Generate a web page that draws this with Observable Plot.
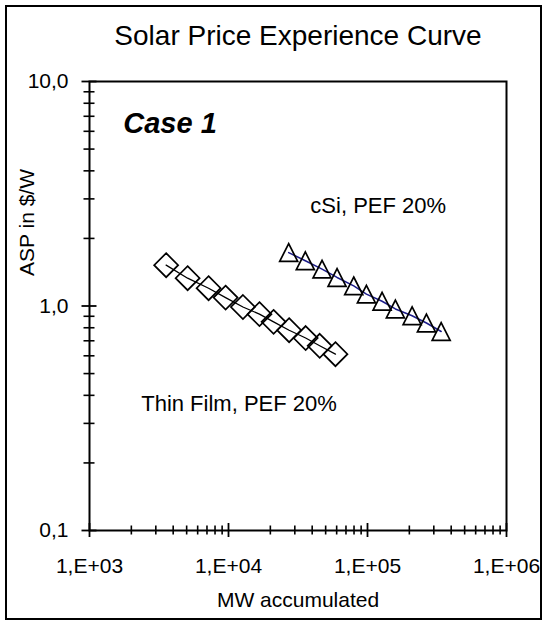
<!DOCTYPE html>
<html>
<head>
<meta charset="utf-8">
<script src="https://cdn.jsdelivr.net/npm/d3@7"></script>
<script src="https://cdn.jsdelivr.net/npm/@observablehq/plot@0.6"></script>
<style>
  html, body { margin: 0; padding: 0; background: #fff; }
  #wrap { position: relative; width: 542px; height: 621px; overflow: hidden; }
  #wrap svg { position: absolute; left: 0; top: 0; }
  #border { position: absolute; left: 5px; top: 5px; width: 533px; height: 611px; border: 2px solid #000; pointer-events: none; }
</style>
</head>
<body>
<div id="wrap"><div id="border"></div></div>
<script>
// ---- data ----
const thinFilmMW  = [3560, 5080, 7190, 9530, 12700, 16700, 21100, 27300, 35900, 45300, 58800];
const thinFilmASP = [1.52, 1.33, 1.20, 1.09, 0.99, 0.92, 0.85, 0.78, 0.72, 0.665, 0.61];
const cSiMW  = [27100, 35700, 47100, 60400, 79600, 98200, 127300, 158700, 209400, 265400, 338800];
const cSiASP = [1.73, 1.59, 1.46, 1.34, 1.23, 1.13, 1.05, 0.97, 0.905, 0.84, 0.77];

const xTickValues = [1e3, 1e4, 1e5, 1e6];
const xTickLabels = ["1,E+03", "1,E+04", "1,E+05", "1,E+06"];
const yTickValues = [0.1, 1, 10];
const yTickLabels = ["0,1", "1,0", "10,0"];

const titleText = "Solar Price Experience Curve";
const xTitle = "MW accumulated";
const yTitle = "ASP in $/W";
const annotations = [
  {x: 1750, y: 6.5, text: "Case 1", bold: true},
  {x: 38800, y: 2.8, text: "cSi, PEF 20%"},
  {x: 2355, y: 0.365, text: "Thin Film, PEF 20%"}
];

// ---- derived tables ----
const thinFilm = thinFilmMW.map((x, i) => ({x, y: thinFilmASP[i]}));
const cSi = cSiMW.map((x, i) => ({x, y: cSiASP[i]}));
const xTicks = xTickValues.map((v, i) => ({v, label: xTickLabels[i]}));
const yTicks = yTickValues.map((v, i) => ({v, label: yTickLabels[i]}));
const xMinor = [], yMinor = [];
for (const d of [1e3, 1e4, 1e5]) for (let k = 2; k <= 9; k++) xMinor.push(d * k);
for (const d of [0.1, 1]) for (let k = 2; k <= 9; k++) yMinor.push(+(d * k).toPrecision(3));

const W = 542, H = 621;
const mL = 89, mR = 36, mT = 81, mB = 91;
const pW = W - mL - mR, pH = H - mT - mB;
const font = "Liberation Sans, Arial, Helvetica, sans-serif";

const diamond = {
  draw(ctx, size) {
    const r = Math.sqrt(size / Math.PI);
    ctx.moveTo(0, -r); ctx.lineTo(r, 0); ctx.lineTo(0, r); ctx.lineTo(-r, 0); ctx.closePath();
  }
};
const triangle = {
  draw(ctx, size) {
    const r = Math.sqrt(size / Math.PI);
    const h = r * 0.98;
    ctx.moveTo(0, -h); ctx.lineTo(r, h); ctx.lineTo(-r, h); ctx.closePath();
  }
};

const chart = Plot.plot({
  width: W, height: H,
  marginLeft: mL, marginRight: mR, marginTop: mT, marginBottom: mB,
  style: {fontFamily: font, background: "transparent", overflow: "visible"},
  x: {type: "log", domain: [1e3, 1e6], axis: null},
  y: {type: "log", domain: [0.1, 10], axis: null},
  marks: [
    // minor and major ticks crossing the axes
    Plot.ruleY(yMinor, {y: d => d, insetLeft: -5.5, insetRight: pW - 5.5, stroke: "#000", strokeWidth: 1.6}),
    Plot.ruleY(yTickValues, {y: d => d, insetLeft: -7.5, insetRight: pW - 7.5, stroke: "#000", strokeWidth: 1.8}),
    Plot.ruleX(xMinor, {x: d => d, insetTop: pH - 4.5, insetBottom: -4.5, stroke: "#000", strokeWidth: 1.6}),
    Plot.ruleX(xTickValues, {x: d => d, insetTop: pH - 7, insetBottom: -7, stroke: "#000", strokeWidth: 1.8}),
    Plot.frame({stroke: "#000", strokeWidth: 2}),
    // tick labels
    Plot.text(yTicks, {y: "v", text: "label", frameAnchor: "left", textAnchor: "end", dx: -21, fontSize: 21, fill: "#000"}),
    Plot.text(xTicks, {x: "v", text: "label", frameAnchor: "bottom", lineAnchor: "middle", dy: 36, fontSize: 21, fill: "#000"}),
    // titles
    Plot.text([titleText], {frameAnchor: "top", lineAnchor: "middle", dy: -45, fontSize: 28, fill: "#000"}),
    Plot.text([xTitle], {frameAnchor: "bottom", lineAnchor: "middle", dy: 70, fontSize: 21, fill: "#000"}),
    Plot.text([yTitle], {frameAnchor: "top-left", rotate: -90, lineAnchor: "middle", textAnchor: "middle", dx: -62, dy: 141, fontSize: 21, fill: "#000"}),
    // series
    Plot.line(thinFilm, {x: "x", y: "y", stroke: "#000", strokeWidth: 1.3}),
    Plot.line(cSi, {x: "x", y: "y", stroke: "#1c1c8a", strokeWidth: 1.5}),
    Plot.dot(thinFilm, {x: "x", y: "y", r: 12, symbol: diamond, stroke: "#000", strokeWidth: 1.7, fill: "none"}),
    Plot.dot(cSi, {x: "x", y: "y", r: 9, symbol: triangle, stroke: "#000", strokeWidth: 1.7, fill: "none"}),
    // annotations
    Plot.text(annotations.filter(d => d.bold), {x: "x", y: "y", text: "text", textAnchor: "start", lineAnchor: "middle", fontSize: 29, fontWeight: "bold", fontStyle: "italic", fill: "#000"}),
    Plot.text(annotations.filter(d => !d.bold), {x: "x", y: "y", text: "text", textAnchor: "start", lineAnchor: "middle", fontSize: 22, fill: "#000"})
  ]
});
document.getElementById("wrap").prepend(chart);
</script>
</body>
</html>
